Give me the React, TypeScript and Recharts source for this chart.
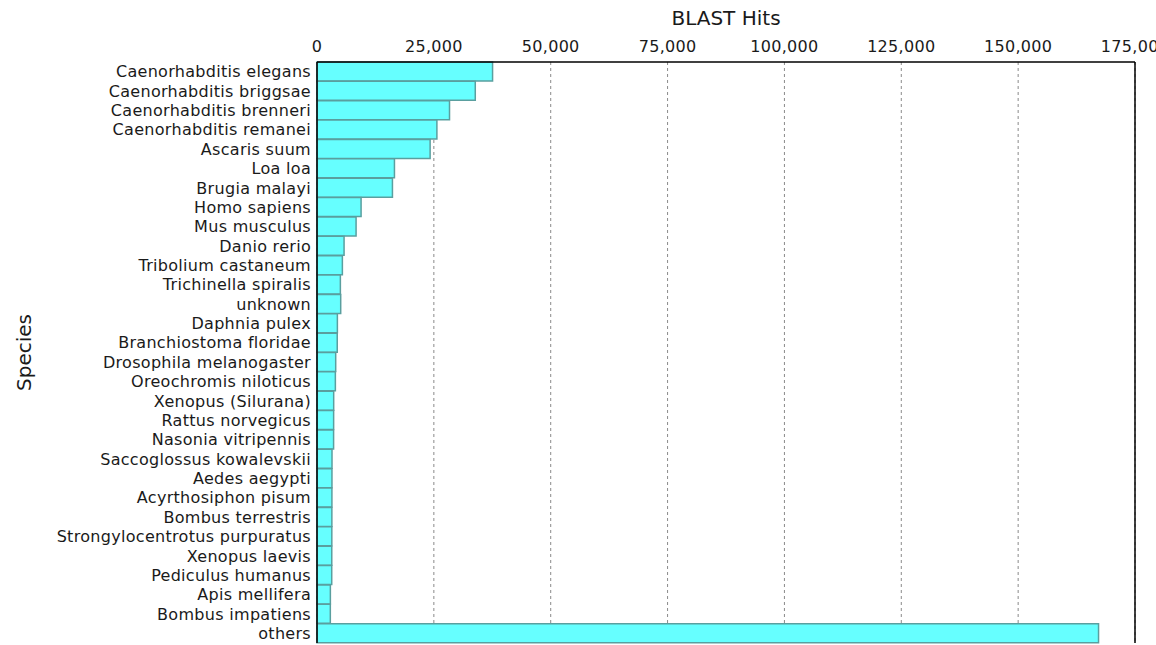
import {
  BarChart,
  Bar,
  XAxis,
  YAxis,
  CartesianGrid,
  ReferenceLine,
} from 'recharts'

const species = [
  'Caenorhabditis elegans',
  'Caenorhabditis briggsae',
  'Caenorhabditis brenneri',
  'Caenorhabditis remanei',
  'Ascaris suum',
  'Loa loa',
  'Brugia malayi',
  'Homo sapiens',
  'Mus musculus',
  'Danio rerio',
  'Tribolium castaneum',
  'Trichinella spiralis',
  'unknown',
  'Daphnia pulex',
  'Branchiostoma floridae',
  'Drosophila melanogaster',
  'Oreochromis niloticus',
  'Xenopus (Silurana)',
  'Rattus norvegicus',
  'Nasonia vitripennis',
  'Saccoglossus kowalevskii',
  'Aedes aegypti',
  'Acyrthosiphon pisum',
  'Bombus terrestris',
  'Strongylocentrotus purpuratus',
  'Xenopus laevis',
  'Pediculus humanus',
  'Apis mellifera',
  'Bombus impatiens',
  'others',
]

const hits = [
  37560, 33860, 28350, 25650, 24200, 16570, 16140, 9430, 8360, 5790,
  5430, 5000, 5070, 4360, 4330, 4000, 3930, 3570, 3560, 3550,
  3210, 3200, 3190, 3180, 3170, 3160, 3150, 2860, 2850, 167200,
]

const hitTicks = [0, 25000, 50000, 75000, 100000, 125000, 150000, 175000]

const data = species.map((name, i) => ({ name, hits: hits[i] }))

const FONT = '"DejaVu Sans", sans-serif'
const tickStyle = { fill: '#1a1a1a', fontSize: 16, fontFamily: FONT, letterSpacing: 0.3 }

export default function App() {
  return (
    <div style={{ position: 'absolute', left: 0, top: 0, background: '#fff' }}>
      <BarChart
        width={1156}
        height={645}
        data={data}
        layout="vertical"
        barCategoryGap={0}
        margin={{ top: 22, right: 21, bottom: 2, left: 0 }}
      >
        <CartesianGrid
          horizontal={false}
          stroke="#8a8a8a"
          strokeDasharray="3 3"
          verticalValues={hitTicks}
        />
        <XAxis
          type="number"
          orientation="top"
          dataKey="hits"
          domain={[0, 175000]}
          ticks={hitTicks}
          interval={0}
          height={40}
          tickSize={0}
          tickMargin={10}
          tickLine={false}
          axisLine={{ stroke: '#000', strokeWidth: 1.5 }}
          tick={tickStyle}
          tickFormatter={(v: number) => v.toLocaleString('en-US')}
          label={{
            value: 'BLAST Hits',
            position: 'top',
            offset: -3,
            fill: '#1a1a1a',
            fontSize: 20,
            fontFamily: FONT,
          }}
        />
        <XAxis
          xAxisId="frame"
          type="number"
          orientation="bottom"
          domain={[0, 175000]}
          height={0}
          tick={false}
          tickLine={false}
          axisLine={{ stroke: '#000', strokeWidth: 1.5 }}
        />
        <YAxis
          type="category"
          dataKey="name"
          width={317}
          interval={0}
          tickSize={0}
          tickMargin={6}
          tickLine={false}
          axisLine={{ stroke: '#000', strokeWidth: 1.5 }}
          tick={tickStyle}
          label={{
            content: ({ viewBox }: any) => {
              const cy = viewBox.y + viewBox.height / 2
              return (
                <text
                  x={31}
                  y={cy}
                  transform={`rotate(-90, 31, ${cy})`}
                  textAnchor="middle"
                  fill="#1a1a1a"
                  fontSize={20}
                  fontFamily={FONT}
                >
                  Species
                </text>
              )
            },
          }}
        />
        <ReferenceLine x={175000} stroke="#000" strokeWidth={1.5} ifOverflow="visible" />
        <Bar
          dataKey="hits"
          fill="#66ffff"
          stroke="#5a9f9f"
          strokeWidth={1.5}
          isAnimationActive={false}
        />
      </BarChart>
    </div>
  )
}
